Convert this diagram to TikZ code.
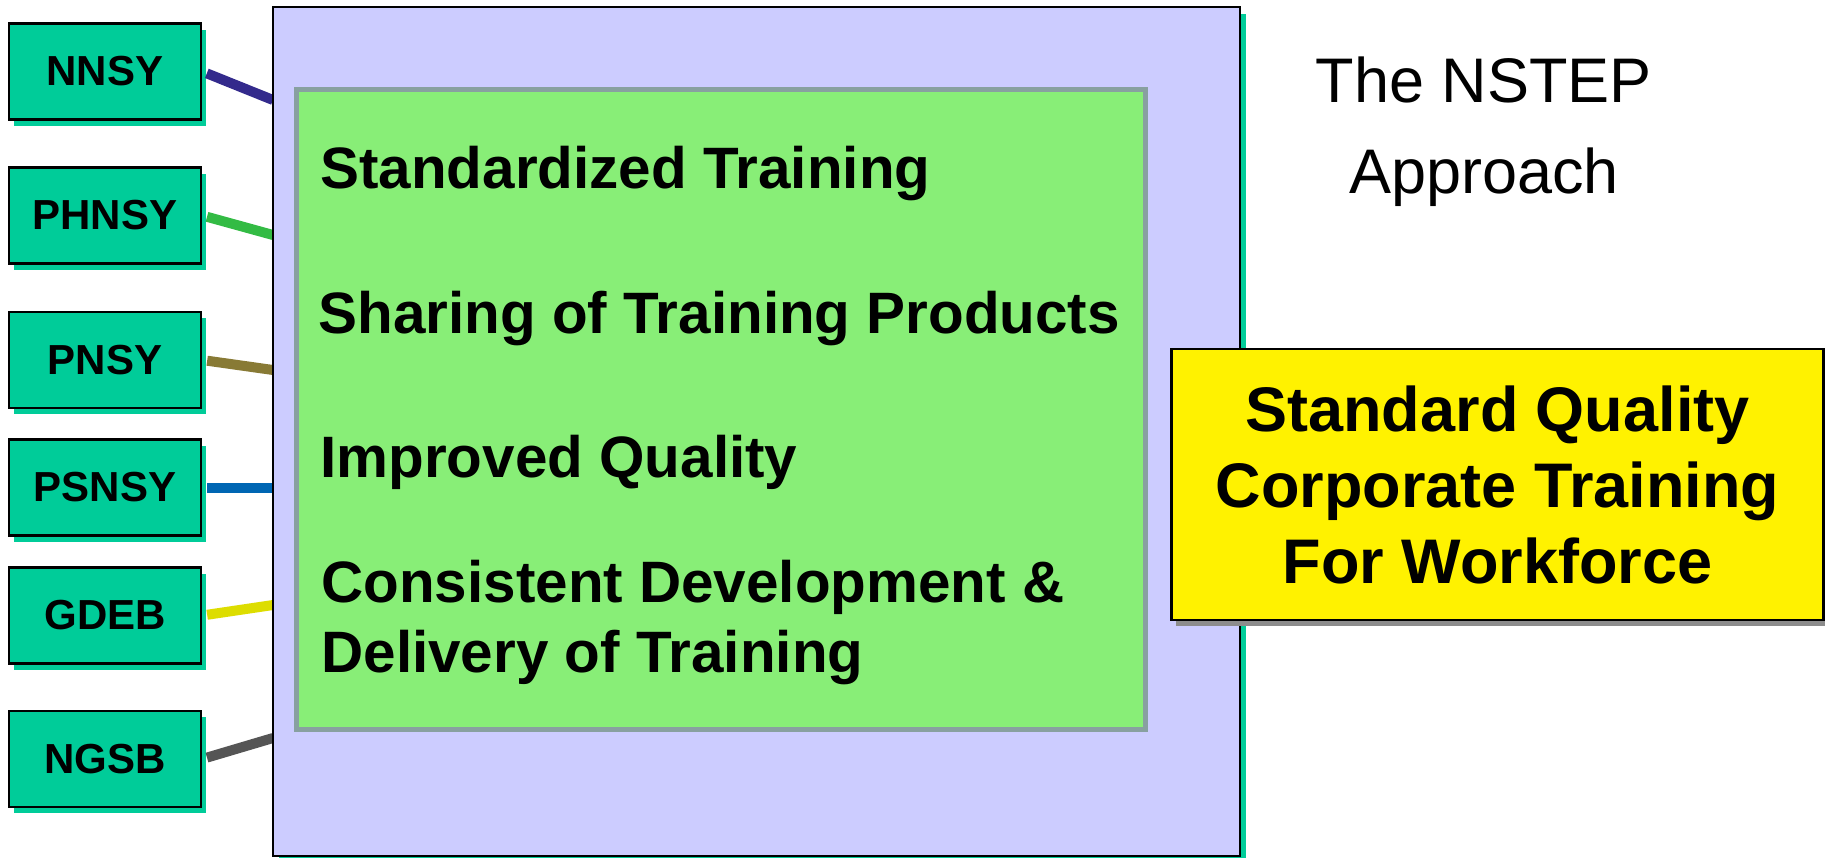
\documentclass[tikz,border=0pt]{standalone}
\usepackage{fontspec}
\setmainfont{Liberation Sans}
\usetikzlibrary{shadows}

\definecolor{yardteal}{HTML}{00CC99}
\definecolor{hubblue}{HTML}{CCCCFF}
\definecolor{benefitgreen}{HTML}{88EE77}
\definecolor{benefitrim}{HTML}{88A0A0}
\definecolor{outcomeshade}{HTML}{8C8C8C}
\definecolor{nnsyline}{HTML}{332A8C}
\definecolor{phnsyline}{HTML}{33BB44}
\definecolor{pnsyline}{HTML}{887A35}
\definecolor{psnsyline}{HTML}{0066B3}
\definecolor{gdebline}{HTML}{DDDD00}
\definecolor{ngsbline}{HTML}{555555}

\begin{document}
\begin{tikzpicture}[x=0.5pt,y=-0.5pt,
	yard/.style={draw=black, line width=1.2pt, fill=yardteal, minimum width=96pt, minimum height=48pt, inner sep=0pt,
		font=\fontsize{21pt}{25pt}\selectfont\bfseries,
		drop shadow={shadow xshift=2.5pt, shadow yshift=-3pt, fill=yardteal, opacity=1}},
	link/.style={line width=5pt, shorten <=2.5pt},
	point/.style={anchor=base west, inner sep=0pt, align=left, font=\fontsize{29.2pt}{35pt}\selectfont\bfseries}]
					\useasboundingbox (0,0) rectangle (1825,857);

					% shipyards
					\node [yard] (nnsy) at (105,71.5) {NNSY};
					\node [yard] (phnsy) at (105,215.5) {PHNSY};
					\node [yard] (pnsy) at (105,360) {PNSY};
					\node [yard] (psnsy) at (105,487.5) {PSNSY};
					\node [yard] (gdeb) at (105,615.5) {GDEB};
					\node [yard] (ngsb) at (105,759) {NGSB};

					\coordinate (nnsy-in) at (273,100);
					\coordinate (phnsy-in) at (273,235);
					\coordinate (pnsy-in) at (273,370);
					\coordinate (psnsy-in) at (273,487.5);
					\coordinate (gdeb-in) at (273,605);
					\coordinate (ngsb-in) at (273,738);

					\draw [link, nnsyline] (nnsy.east) -- (nnsy-in);
					\draw [link, phnsyline] (phnsy.east) -- (phnsy-in);
					\draw [link, pnsyline] (pnsy.east) -- (pnsy-in);
					\draw [link, psnsyline] (psnsy.east) -- (psnsy-in);
					\draw [link, gdebline] (gdeb.east) -- (gdeb-in);
					\draw [link, ngsbline] (ngsb.east) -- (ngsb-in);

					% the approach
					\node [draw=black, line width=1.2pt, fill=hubblue, minimum width=483.5pt, minimum height=424.5pt,
						drop shadow={shadow xshift=3pt, shadow yshift=-3.5pt, fill=yardteal, opacity=1}] (hub) at (756.5,431.5) {};
					\node [draw=benefitrim, line width=2.5pt, fill=benefitgreen, minimum width=424.5pt, minimum height=320pt] (benefits) at (721,409.5) {};

					\node [point] (standard) at (320,188) {Standardized Training};
					\node [point] (sharing) at (318,333) {Sharing of Training Products};
					\node [point] (quality) at (320,477) {Improved Quality};
					\node [point] (delivery) at (321,672) {Consistent Development \&\\Delivery of Training};

					\node [draw=black, line width=1.2pt, fill=yellow, minimum width=326pt, minimum height=135.5pt, align=center,
						font=\fontsize{31.5pt}{38pt}\selectfont\bfseries,
						drop shadow={shadow xshift=2pt, shadow yshift=-3pt, fill=outcomeshade, opacity=1}] (outcome) at (1497.5,484.5) {Standard Quality\\Corporate Training\\For Workforce};

					\node [anchor=base, inner sep=0pt, align=center, font=\fontsize{31.5pt}{45.5pt}\selectfont] (title) at (1484,193) {The NSTEP\\Approach};

				\end{tikzpicture}
\end{document}
